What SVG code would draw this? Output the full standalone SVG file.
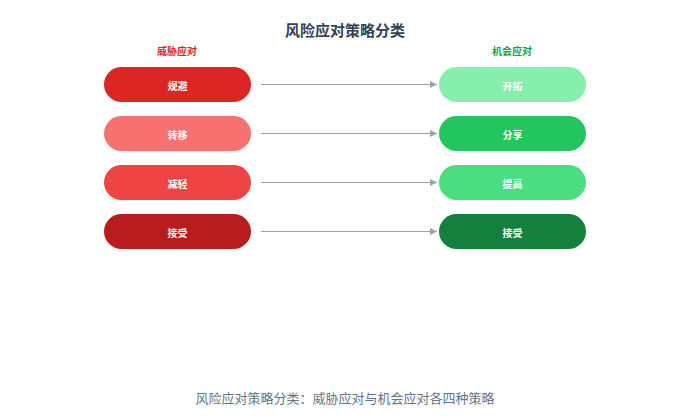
<svg xmlns="http://www.w3.org/2000/svg" width="675" height="417" viewBox="0 0 675 417">
<style>
text{font-family:"Noto Sans CJK SC","Noto Sans",sans-serif}
.t{font-size:15px;font-weight:700;fill:#334155;text-anchor:middle}
.h{font-size:10px;font-weight:700;text-anchor:middle}
.n{font-size:10px;font-weight:700;fill:#fff;text-anchor:middle;dominant-baseline:central}
.c{font-size:13px;fill:#64748b;text-anchor:middle}
.e{stroke:#94a3b8;stroke-width:1.2;fill:none;marker-end:url(#a)}
</style>
<defs>
<marker id="a" viewBox="0 0 10 10" refX="10" refY="5" markerWidth="7" markerHeight="7" orient="auto" markerUnits="userSpaceOnUse"><path d="M0,0L10,5L0,10z" fill="#94a3b8"/></marker>
</defs>
<rect width="675" height="417" fill="#fff"/>
<text class="t" x="345" y="36">风险应对策略分类</text>
<text class="h" x="177" y="55" fill="#dc2626">威胁应对</text>
<text class="h" x="512" y="55" fill="#16a34a">机会应对</text>
<g id="edges">
<line class="e" x1="261" y1="84.5" x2="437" y2="84.5"/>
<line class="e" x1="261" y1="133.5" x2="437" y2="133.5"/>
<line class="e" x1="261" y1="182.5" x2="437" y2="182.5"/>
<line class="e" x1="261" y1="231.5" x2="437" y2="231.5"/>
</g>
<g id="t1"><rect x="104" y="67" width="147" height="35" rx="17.5" fill="#dc2626"/><text class="n" x="177.5" y="85.5">规避</text></g>
<g id="t2"><rect x="104" y="116" width="147" height="35" rx="17.5" fill="#f87171"/><text class="n" x="177.5" y="134.5">转移</text></g>
<g id="t3"><rect x="104" y="165" width="147" height="35" rx="17.5" fill="#ef4444"/><text class="n" x="177.5" y="183.5">减轻</text></g>
<g id="t4"><rect x="104" y="214" width="147" height="35" rx="17.5" fill="#b91c1c"/><text class="n" x="177.5" y="232.5">接受</text></g>
<g id="o1"><rect x="439" y="67" width="147" height="35" rx="17.5" fill="#86efac"/><text class="n" x="512.5" y="85.5">开拓</text></g>
<g id="o2"><rect x="439" y="116" width="147" height="35" rx="17.5" fill="#22c55e"/><text class="n" x="512.5" y="134.5">分享</text></g>
<g id="o3"><rect x="439" y="165" width="147" height="35" rx="17.5" fill="#4ade80"/><text class="n" x="512.5" y="183.5">提高</text></g>
<g id="o4"><rect x="439" y="214" width="147" height="35" rx="17.5" fill="#15803d"/><text class="n" x="512.5" y="232.5">接受</text></g>
<text class="c" x="345" y="403">风险应对策略分类：威胁应对与机会应对各四种策略</text>
</svg>
